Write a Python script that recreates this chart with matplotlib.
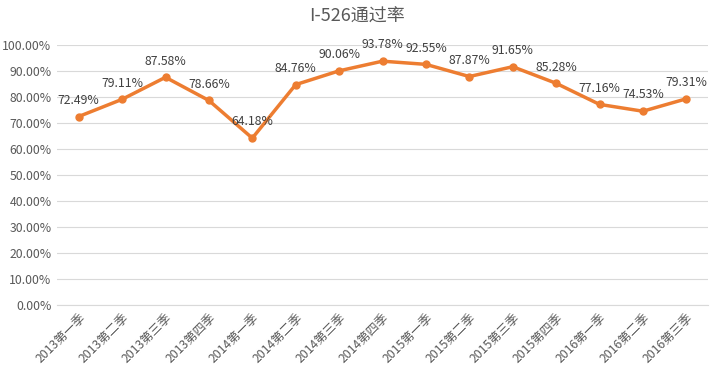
import matplotlib
matplotlib.use("Agg")
import matplotlib.pyplot as plt
from matplotlib.ticker import FuncFormatter, MultipleLocator

plt.rcParams['font.family'] = ['Noto Sans CJK SC', 'DejaVu Sans']

categories = ["2013第一季", "2013第二季", "2013第三季", "2013第四季",
              "2014第一季", "2014第二季", "2014第三季", "2014第四季",
              "2015第一季", "2015第二季", "2015第三季", "2015第四季",
              "2016第一季", "2016第二季", "2016第三季"]
values = [72.49, 79.11, 87.58, 78.66, 64.18, 84.76, 90.06, 93.78,
          92.55, 87.87, 91.65, 85.28, 77.16, 74.53, 79.31]

line_color = "#ED7D31"
text_color = "#595959"
grid_color = "#D9D9D9"

fig = plt.figure(figsize=(7.14, 3.71), dpi=100)
ax = fig.add_axes([57/714, 1 - 305/371, (708-57)/714, (305-45)/371])

x = list(range(len(categories)))
ax.plot(x, values, color=line_color, linewidth=2.5, marker='o', markersize=5, zorder=3)

for xi, v in zip(x, values):
    ax.annotate(f"{v:.2f}%", (xi, v), xytext=(0, 7), textcoords='offset points',
                ha='center', va='bottom', fontsize=8.8, color="#404040")

ax.set_xlim(-0.5, len(categories) - 0.5)
ax.set_ylim(0, 100)
ax.yaxis.set_major_locator(MultipleLocator(10))
ax.yaxis.set_major_formatter(FuncFormatter(lambda v, p: f"{v:.2f}%"))
ax.grid(axis='y', color=grid_color, linewidth=0.8)
ax.set_axisbelow(True)
for s in ['top', 'right', 'left']:
    ax.spines[s].set_visible(False)
ax.spines['bottom'].set_color(grid_color)
ax.tick_params(axis='y', length=0, labelsize=8.8, labelcolor=text_color, pad=4)
ax.tick_params(axis='x', length=0, labelsize=8.8, labelcolor=text_color, pad=4)
ax.set_xticks(x)
ax.set_xticklabels(categories, rotation=45, ha='right', rotation_mode='anchor')

fig.text(0.5, 1 - 17/371, "I-526通过率", ha='center', va='center', fontsize=13, color=text_color)

fig.savefig("out.png", dpi=100)
